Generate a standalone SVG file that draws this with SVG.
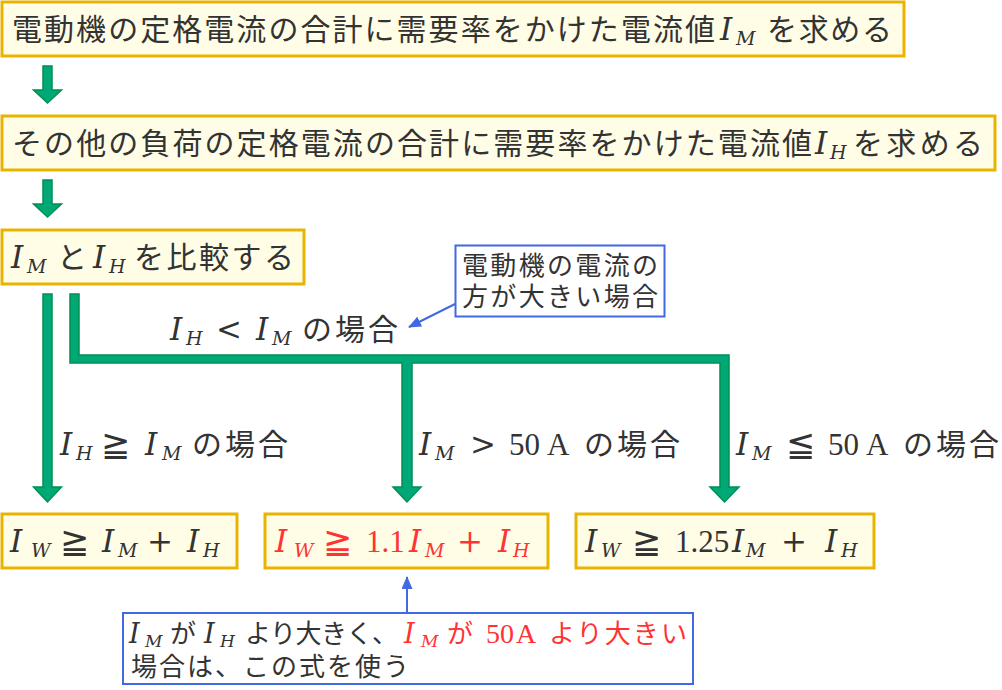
<svg xmlns="http://www.w3.org/2000/svg" width="1002" height="690" viewBox="0 0 1002 690">
<defs>
<style>
.box{fill:#FFFDE6;stroke:#E8B400;stroke-width:3}
.call{fill:#FFFFFF;stroke:#4169E1;stroke-width:2}
.j{font-family:"Noto Sans CJK JP","Noto Sans CJK SC",sans-serif;font-size:30px;fill:#333333}
.jc{font-family:"Noto Sans CJK JP","Noto Sans CJK SC",sans-serif;font-size:26px;fill:#333333}
.m{font-family:"DejaVu Serif","Liberation Serif",serif;fill:#333333}
.i{font-style:italic;font-size:31px}
.s{font-style:italic;font-size:19px}
.u{font-family:"Liberation Serif","DejaVu Serif",serif;font-style:normal;font-size:31px}
.o{font-style:normal;font-size:31px}
.g{font-style:normal;font-size:35px}
.ci{font-style:italic;font-size:27px}
.cs{font-style:italic;font-size:17px}
.cu{font-family:"Liberation Serif","DejaVu Serif",serif;font-style:normal;font-size:28px}
.red{fill:#FF3333}
.green{fill:#00A878;stroke:#009050;stroke-width:1.5;stroke-linejoin:miter}
.blue{stroke:#4169E1;stroke-width:2;fill:none}
</style>
<marker id="ah" viewBox="0 0 13 11" refX="12" refY="5.5" markerWidth="13" markerHeight="11" markerUnits="userSpaceOnUse" orient="auto">
<path d="M0,0 L13,5.5 L0,11 Z" fill="#4169E1"/>
</marker>
</defs>
<rect width="1002" height="690" fill="#FFFFFF"/>

<g id="connectors">
<path class="green" d="M43,66 L52,66 L52,90 L61.5,90 L47.5,103 L33.5,90 L43,90 Z"/>
<path class="green" d="M43,180 L52,180 L52,204 L61.5,204 L47.5,217 L33.5,204 L43,204 Z"/>
<path class="green" d="M43,294 L52,294 L52,487 L61.5,487 L47.5,502 L33.5,487 L43,487 Z"/>
<path class="green" d="M70,294 L79,294 L79,355 L729,355 L729,487 L739,487 L724.5,502 L710,487 L720,487 L720,363 L412,363 L412,487 L421,487 L407,502 L393,487 L402,487 L402,363 L70,363 Z"/>
<line class="blue" x1="455" y1="304" x2="409" y2="327" marker-end="url(#ah)"/>
<line class="blue" x1="407" y1="613" x2="407" y2="577" marker-end="url(#ah)"/>
</g>

<g id="node-motor">
<rect class="box" x="2" y="2" width="902" height="54"/>
<text class="j" x="12" y="40" textLength="703" lengthAdjust="spacing">電動機の定格電流の合計に需要率をかけた電流値</text>
<text class="m"><tspan class="i" x="720" y="40">I</tspan><tspan class="s" x="736" y="45">M</tspan></text>
<text class="j" x="767" y="40" textLength="125" lengthAdjust="spacing">を求める</text>
</g>

<g id="node-other">
<rect class="box" x="2" y="116" width="993" height="54"/>
<text class="j" x="12" y="154" textLength="800" lengthAdjust="spacing">その他の負荷の定格電流の合計に需要率をかけた電流値</text>
<text class="m"><tspan class="i" x="815" y="154">I</tspan><tspan class="s" x="830" y="159">H</tspan></text>
<text class="j" x="853" y="154" textLength="130" lengthAdjust="spacing">を求める</text>
</g>

<g id="node-compare">
<rect class="box" x="2" y="230" width="302" height="54"/>
<text class="m"><tspan class="i" x="11" y="268">I</tspan><tspan class="s" x="27" y="273">M</tspan></text>
<text class="j" x="57" y="268">と</text>
<text class="m"><tspan class="i" x="93" y="268">I</tspan><tspan class="s" x="109" y="273">H</tspan></text>
<text class="j" x="134" y="268" textLength="160" lengthAdjust="spacing">を比較する</text>
</g>

<g id="label-lt">
<text class="m"><tspan class="i" x="170" y="340">I</tspan><tspan class="s" x="186" y="345">H</tspan><tspan class="o" x="216" y="340">&lt;</tspan><tspan class="i" x="256" y="340">I</tspan><tspan class="s" x="272" y="345">M</tspan></text>
<text class="j" x="302" y="340" textLength="96" lengthAdjust="spacing">の場合</text>
</g>

<g id="callout-motor">
<rect class="call" x="455.5" y="245.5" width="209" height="71"/>
<text class="jc" x="462" y="275" textLength="196" lengthAdjust="spacing">電動機の電流の</text>
<text class="jc" x="462" y="306" textLength="196" lengthAdjust="spacing">方が大きい場合</text>
</g>

<g id="label-ge">
<text class="m"><tspan class="i" x="60" y="455">I</tspan><tspan class="s" x="76" y="460">H</tspan><tspan class="g" x="101" y="456">≧</tspan><tspan class="i" x="145" y="455">I</tspan><tspan class="s" x="162" y="460">M</tspan></text>
<text class="j" x="192" y="455" textLength="96" lengthAdjust="spacing">の場合</text>
</g>

<g id="label-gt50">
<text class="m"><tspan class="i" x="419" y="455">I</tspan><tspan class="s" x="435" y="460">M</tspan><tspan class="o" x="470" y="455">&gt;</tspan><tspan class="u" x="509" y="455">50</tspan><tspan class="u" x="547" y="455">A</tspan></text>
<text class="j" x="584" y="455" textLength="96" lengthAdjust="spacing">の場合</text>
</g>

<g id="label-le50">
<text class="m"><tspan class="i" x="736" y="455">I</tspan><tspan class="s" x="752" y="460">M</tspan><tspan class="g" x="786" y="456">≦</tspan><tspan class="u" x="828" y="455">50</tspan><tspan class="u" x="866" y="455">A</tspan></text>
<text class="j" x="903" y="455" textLength="96" lengthAdjust="spacing">の場合</text>
</g>

<g id="node-result-a">
<rect class="box" x="2" y="514" width="235" height="54"/>
<text class="m"><tspan class="i" x="10" y="552">I</tspan><tspan class="s" x="31" y="557">W</tspan><tspan class="g" x="60" y="553">≧</tspan><tspan class="i" x="102" y="552">I</tspan><tspan class="s" x="118" y="557">M</tspan><tspan class="o" x="147" y="552">+</tspan><tspan class="i" x="187" y="552">I</tspan><tspan class="s" x="203" y="557">H</tspan></text>
</g>

<g id="node-result-b">
<rect class="box" x="265" y="514" width="283" height="54"/>
<text class="m red"><tspan class="i" x="275" y="552">I</tspan><tspan class="s" x="294" y="557">W</tspan><tspan class="g" x="323" y="553">≧</tspan><tspan class="u" x="366" y="552">1.1</tspan><tspan class="i" x="409" y="552">I</tspan><tspan class="s" x="425" y="557">M</tspan><tspan class="o" x="457" y="552">+</tspan><tspan class="i" x="498" y="552">I</tspan><tspan class="s" x="513" y="557">H</tspan></text>
</g>

<g id="node-result-c">
<rect class="box" x="576" y="514" width="298" height="54"/>
<text class="m"><tspan class="i" x="585" y="552">I</tspan><tspan class="s" x="601" y="557">W</tspan><tspan class="g" x="632" y="553">≧</tspan><tspan class="u" x="675" y="552">1.25</tspan><tspan class="i" x="732" y="552">I</tspan><tspan class="s" x="746" y="557">M</tspan><tspan class="o" x="781" y="552">+</tspan><tspan class="i" x="825" y="552">I</tspan><tspan class="s" x="841" y="557">H</tspan></text>
</g>

<g id="callout-formula">
<rect class="call" x="123" y="613" width="570" height="71"/>
<text class="m"><tspan class="ci" x="129" y="643">I</tspan><tspan class="cs" x="145" y="647">M</tspan></text>
<text class="jc" x="170" y="643">が</text>
<text class="m"><tspan class="ci" x="204" y="643">I</tspan><tspan class="cs" x="220" y="647">H</tspan></text>
<text class="jc" x="245" y="643" textLength="153" lengthAdjust="spacing">より大きく、</text>
<text class="m red"><tspan class="ci" x="404" y="643">I</tspan><tspan class="cs" x="421" y="647">M</tspan></text>
<text class="jc red" x="447" y="643">が</text>
<text class="m red"><tspan class="cu" x="486" y="643">50</tspan><tspan class="cu" x="516" y="643">A</tspan></text>
<text class="jc red" x="549" y="643" textLength="138" lengthAdjust="spacing">より大きい</text>
<text class="jc" x="131" y="676" textLength="278" lengthAdjust="spacing">場合は、この式を使う</text>
</g>
</svg>
